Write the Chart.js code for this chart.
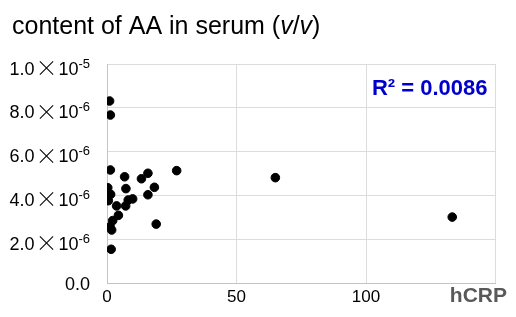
<!DOCTYPE html>
<html>
<head>
<meta charset="utf-8">
<script src="https://cdn.jsdelivr.net/npm/chart.js@4/dist/chart.umd.min.js"></script>
<style>
  html, body { margin: 0; padding: 0; background: #fff; }
</style>
</head>
<body>
<canvas id="chart" width="516" height="317"></canvas>
<script>
// hCRP (x) and AA content in serum (y, v/v)
const hcrp = [1.0, 1.3, 1.3, 6.8, 15.8, 13.3, 26.9, 0.3, 7.3, 18.3, 1.4, 0.5, 15.8,
  9.9, 8.2, 3.7, 7.2, 4.4, 2.2, 1.2, 1.8, 19.0, 1.6, 65.0, 133.3];
const aaContent = [8.31e-6, 7.67e-6, 5.16e-6, 4.85e-6, 5.01e-6, 4.76e-6, 5.13e-6, 4.35e-6,
  4.31e-6, 4.37e-6, 4.05e-6, 3.76e-6, 4.03e-6, 3.84e-6, 3.79e-6, 3.52e-6, 3.52e-6,
  3.09e-6, 2.85e-6, 2.57e-6, 2.42e-6, 2.69e-6, 1.54e-6, 4.81e-6, 3.01e-6];
const xTicks = [0, 50, 100, 150];
const yTicks = [0, 2e-6, 4e-6, 6e-6, 8e-6, 1e-5];

const titleText = 'content of AA in serum';
const xLabel = 'hCRP';
const r2Text = 'R² = 0.0086';

const FONT = '"Liberation Sans", Arial, sans-serif';
const TIMES_FONT = '300 22px "Noto Sans CJK JP", "Liberation Sans", sans-serif';

// y tick labels: mantissa × 10 with raised exponent, right aligned at xRight
function drawYLabel(ctx, v, xRight, y) {
  ctx.textAlign = 'left';
  ctx.textBaseline = 'alphabetic';
  ctx.font = '18px ' + FONT;
  const capH = ctx.measureText('0').actualBoundingBoxAscent;
  if (v === 0) {
    const w = ctx.measureText('0.0').width;
    ctx.fillText('0.0', xRight - w, y + 0.5 + capH / 2);
    return;
  }
  y += 4;
  const exp = Math.floor(Math.log10(v) + 1e-9);
  const mant = (v / Math.pow(10, exp)).toFixed(1);
  const sup = String(exp);
  ctx.font = '18px ' + FONT;
  const wMant = ctx.measureText(mant).width;
  const wTen = ctx.measureText('10').width;
  ctx.font = TIMES_FONT;
  const mx = ctx.measureText('×');
  const wX = mx.width + 2;
  const xCenterOff = (mx.actualBoundingBoxAscent - mx.actualBoundingBoxDescent) / 2;
  ctx.font = '13px ' + FONT;
  const wSup = ctx.measureText(sup).width;
  let x = xRight - (wMant + wX + wTen + wSup);
  const base = y + capH / 2;
  ctx.font = '18px ' + FONT;
  ctx.fillText(mant, x, base); x += wMant;
  ctx.font = TIMES_FONT;
  ctx.fillText('×', x + 1, y + xCenterOff); x += wX;
  ctx.font = '18px ' + FONT;
  ctx.fillText('10', x, base); x += wTen;
  ctx.font = '13px ' + FONT;
  ctx.fillText(sup, x, base - 7);
}

const labelsPlugin = {
  id: 'labels',
  afterDraw(chart) {
    const ctx = chart.ctx;
    const ys = chart.scales.y;
    const area = chart.chartArea;
    ctx.save();
    ctx.fillStyle = '#000';
    yTicks.forEach(v => drawYLabel(ctx, v, 90, ys.getPixelForValue(v)));

    // title with italic v/v
    ctx.textBaseline = 'alphabetic';
    ctx.textAlign = 'left';
    let x = 12;
    const parts = [[titleText + ' (', ''], ['v', 'italic '], ['/', ''], ['v', 'italic '], [')', '']];
    parts.forEach(([t, st]) => {
      ctx.font = st + '25px ' + FONT;
      ctx.fillText(t, x, 34);
      x += ctx.measureText(t).width;
    });

    // R squared
    ctx.font = 'bold 22px ' + FONT;
    ctx.fillStyle = '#0000cc';
    ctx.textAlign = 'right';
    ctx.textBaseline = 'middle';
    ctx.fillText(r2Text, area.right - 8, 89);

    // x axis name
    ctx.font = 'bold 21px ' + FONT;
    ctx.fillStyle = '#595959';
    ctx.fillText(xLabel, 507, 296);
    ctx.restore();
  }
};

new Chart(document.getElementById('chart'), {
  type: 'scatter',
  data: {
    datasets: [{
      data: hcrp.map((h, i) => ({ x: h, y: aaContent[i] })),
      backgroundColor: '#000',
      borderColor: '#000',
      pointRadius: 4.3,
      pointHoverRadius: 4.3
    }]
  },
  options: {
    responsive: false,
    animation: false,
    events: [],
    layout: { padding: { left: 0, right: 20.5, top: 64, bottom: 0 } },
    plugins: { legend: { display: false }, tooltip: { enabled: false } },
    scales: {
      x: {
        type: 'linear',
        min: 0, max: 150,
        afterBuildTicks: s => { s.ticks = xTicks.map(v => ({ value: v })); },
        afterFit: s => { s.height = 34; },
        grid: { color: '#dcdcdc', drawTicks: false },
        border: { color: '#c4c4c4' },
        ticks: {
          padding: 4,
          color: '#000',
          font: { family: FONT, size: 17 },
          callback: v => (v === 150 ? '' : v)
        }
      },
      y: {
        min: 0, max: 1e-5,
        afterBuildTicks: s => { s.ticks = yTicks.map(v => ({ value: v })); },
        afterFit: s => { s.width = 107; },
        grid: { color: '#dcdcdc', drawTicks: false },
        border: { color: '#c4c4c4' },
        ticks: { display: false }
      }
    }
  },
  plugins: [labelsPlugin]
});
</script>
</body>
</html>
